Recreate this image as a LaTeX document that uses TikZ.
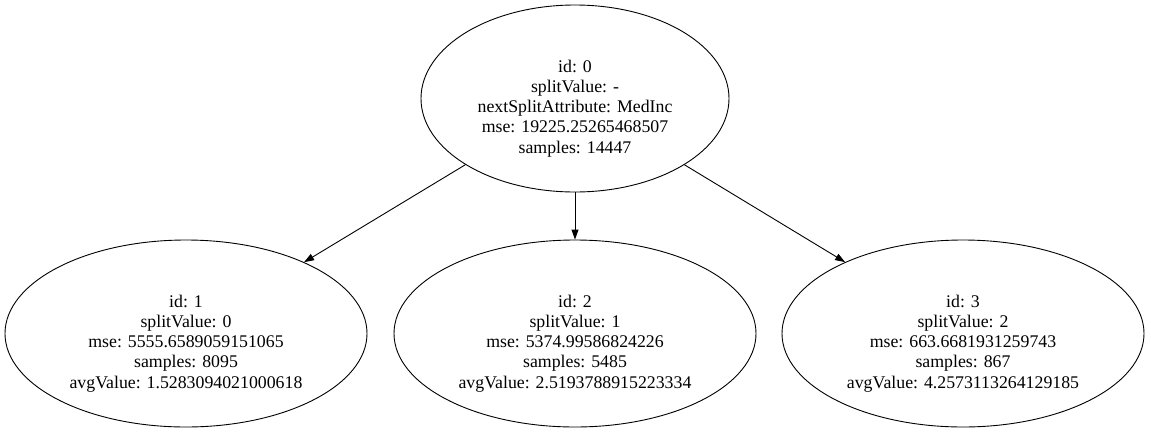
\documentclass[tikz,border=0pt]{standalone}
\usepackage{fontspec}
\setmainfont{Liberation Serif}
\usetikzlibrary{shapes.geometric,arrows.meta}
\begin{document}
\begin{tikzpicture}[x=1pt,y=-1pt,
  treenode/.style={draw,ellipse,inner sep=0pt,line width=0.9pt},
  rootnode/.style={treenode,minimum width=308pt,minimum height=187pt},
  leafnode/.style={treenode,minimum width=362pt,minimum height=187pt},
  nodetext/.style={align=center,inner sep=0pt,yshift=-10pt,
    font=\fontsize{17.8}{20.2}\selectfont},
  edge/.style={-{Triangle[length=10pt,width=7pt]},line width=0.9pt}]
\useasboundingbox (0,0) rectangle (1151,432);
\node[rootnode,label={[nodetext]center:id: 0\\splitValue: -\\nextSplitAttribute: MedInc\\mse: 19225.25265468507\\samples: 14447}] (n0) at (575,98.5) {};
\node[leafnode,label={[nodetext]center:id: 1\\splitValue: 0\\mse: 5555.6589059151065\\samples: 8095\\avgValue: 1.5283094021000618}] (n1) at (186,333.5) {};
\node[leafnode,label={[nodetext]center:id: 2\\splitValue: 1\\mse: 5374.99586824226\\samples: 5485\\avgValue: 2.5193788915223334}] (n2) at (575,333.5) {};
\node[leafnode,label={[nodetext]center:id: 3\\splitValue: 2\\mse: 663.6681931259743\\samples: 867\\avgValue: 4.2573113264129185}] (n3) at (963,333.5) {};
\draw[edge] (n0) -- (n1);
\draw[edge] (n0) -- (n2);
\draw[edge] (n0) -- (n3);
\end{tikzpicture}
\end{document}
